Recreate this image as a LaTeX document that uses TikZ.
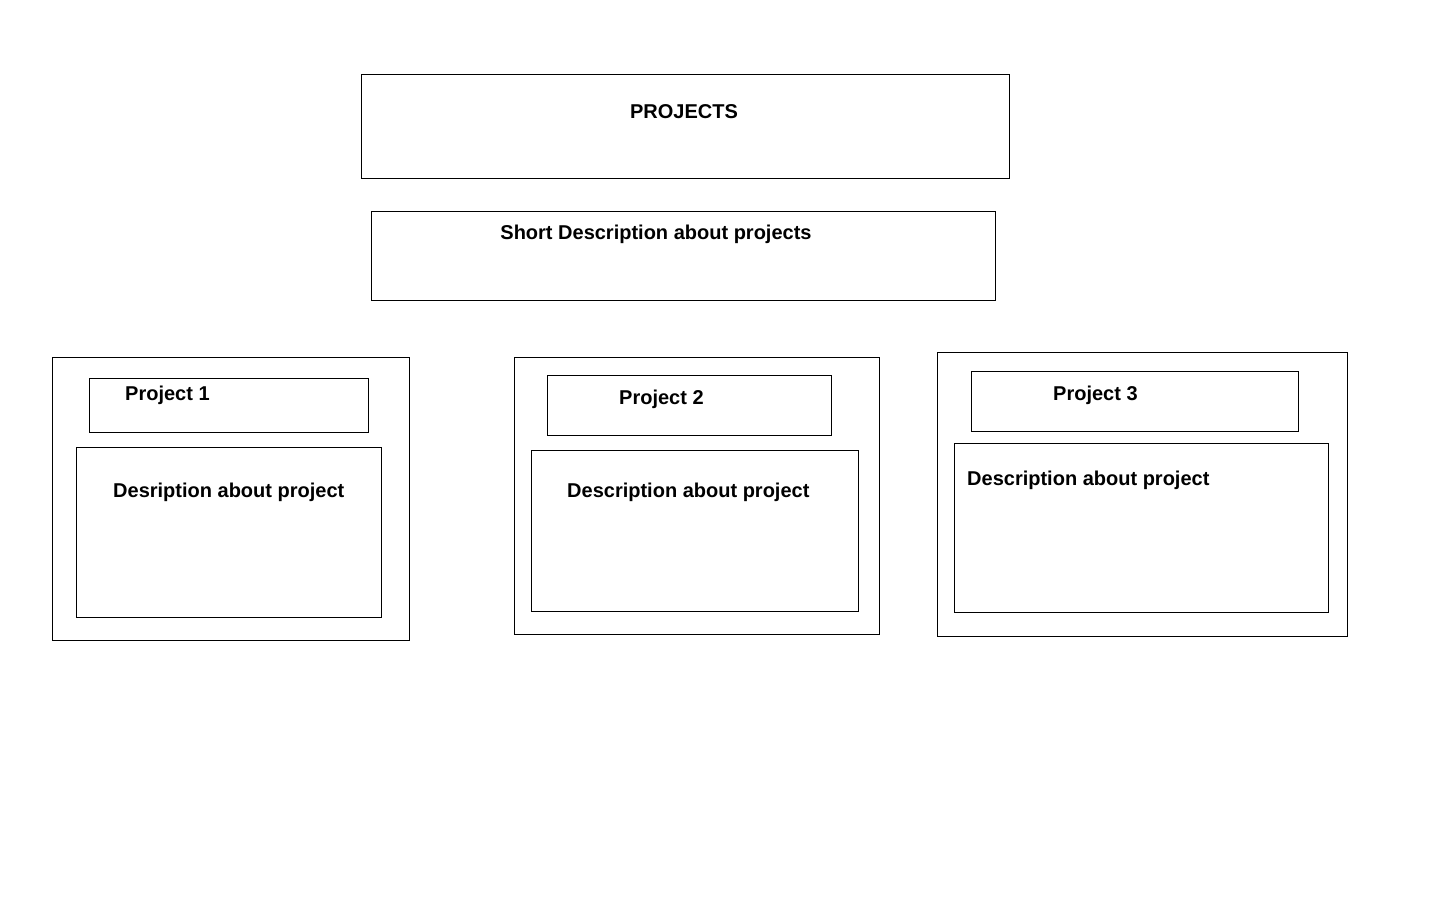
\documentclass[tikz,border=0pt]{standalone}
\usepackage{fontspec}
\setmainfont{Liberation Sans}
\begin{document}
\begin{tikzpicture}[x=1pt,y=-1pt,
  box/.style={draw=black,line width=1pt,fill=none},
  lbl/.style={font=\fontsize{20}{22}\selectfont\bfseries,inner sep=0pt,anchor=mid west,yshift=-5pt}]
\useasboundingbox[fill=white] (0,0) rectangle (1440,900);
% top boxes
\draw[box] (361,74) rectangle (1009,178);
\node[lbl,anchor=mid] (t1) at (684,111) {PROJECTS};
\draw[box] (371,211) rectangle (995,300);
\node[lbl,anchor=mid] (t2) at (656,232) {Short Description about projects};
% project 1
\draw[box] (52,357) rectangle (409,640);
\draw[box] (89,378) rectangle (368,432);
\node[lbl] (p1) at (125,393) {Project 1};
\draw[box] (76,447) rectangle (381,617);
\node[lbl] (d1) at (113,490) {Desription about project};
% project 2
\draw[box] (514,357) rectangle (879,634);
\draw[box] (547,375) rectangle (831,435);
\node[lbl] (p2) at (619,397) {Project 2};
\draw[box] (531,450) rectangle (858,611);
\node[lbl] (d2) at (567,490) {Description about project};
% project 3
\draw[box] (937,352) rectangle (1347,636);
\draw[box] (971,371) rectangle (1298,431);
\node[lbl] (p3) at (1053,393) {Project 3};
\draw[box] (954,443) rectangle (1328,612);
\node[lbl] (d3) at (967,478) {Description about project};
\end{tikzpicture}
\end{document}
